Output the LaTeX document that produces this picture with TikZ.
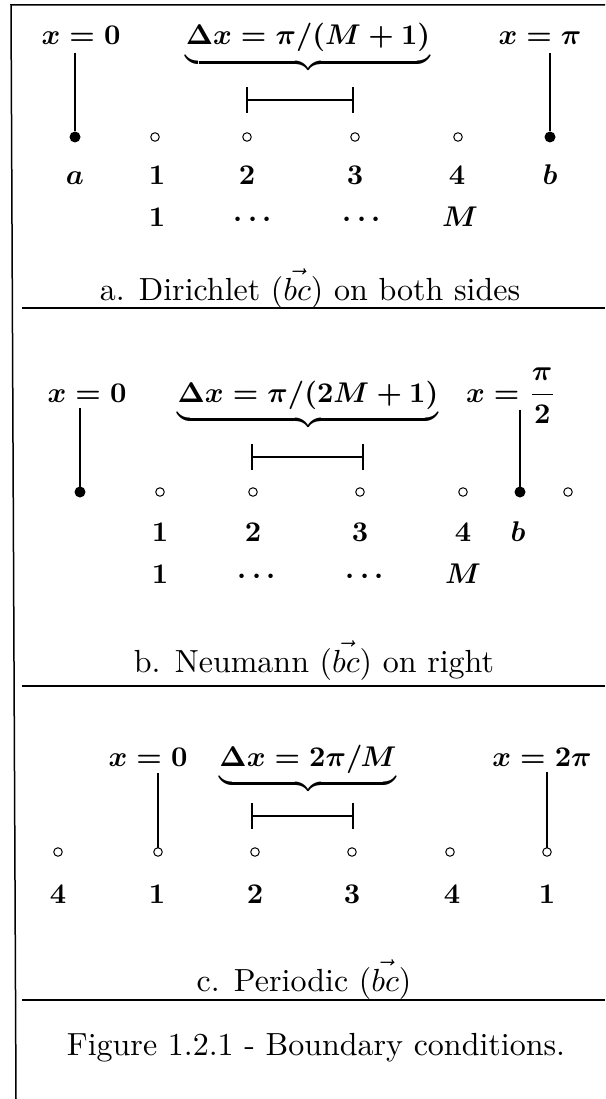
\documentclass[tikz,border=0pt]{standalone}
\usepackage{graphicx}
\newcommand{\bmt}[1]{\scalebox{2.85}{\boldmath$#1$}}
\newcommand{\cptn}[1]{\scalebox{3.2}{#1}}
\tikzset{
  lbl/.style={anchor=base, inner sep=0pt, outer sep=0pt},
  fdot/.style={circle, fill=black, inner sep=0pt, outer sep=0pt, minimum size=11pt},
  odot/.style={circle, draw=black, line width=1pt, fill=white, inner sep=0pt, outer sep=0pt, minimum size=8.5pt},
  stem/.style={line width=2.8pt},
  thinstem/.style={line width=1.7pt},
  barline/.style={line width=2.3pt},
  rule/.style={line width=1.5pt},
}
\begin{document}
\begin{tikzpicture}[x=1pt,y=-1pt]
\useasboundingbox (0,0) rectangle (605,1099);
% frame
\coordinate (tl) at (11,5);
\coordinate (tr) at (605,5);
\coordinate (bl) at (16,1099);
\draw[rule] (tr) -- (tl) -- (bl);

% ---------------- a. Dirichlet ----------------
\node[lbl] (ax0) at (81,45) {\bmt{x=0}};
\node[lbl] (adx) at (308,45) {\bmt{\underbrace{\Delta x=\pi/(M+1)}}};
\node[lbl] (axpi) at (540,45) {\bmt{x=\pi}};
\node[fdot] (aa) at (75,137) {};
\node[odot] (a1) at (155,137) {};
\node[odot] (a2) at (247,137) {};
\node[odot] (a3) at (355,137) {};
\node[odot] (a4) at (458,137) {};
\node[fdot] (ab) at (550,137) {};
\coordinate (aat) at (75,53);
\coordinate (abt) at (550,53);
\draw[stem] (aat) -- (aa);
\draw[stem] (abt) -- (ab);
\coordinate (abl) at (247,100);
\coordinate (abr) at (353,100);
\draw[barline] (abl) -- (abr);
\draw[barline] ([yshift=13pt]abl) -- ([yshift=-13pt]abl);
\draw[barline] ([yshift=13pt]abr) -- ([yshift=-13pt]abr);
\node[lbl] (la) at (75,185) {\bmt{a}};
\node[lbl] (l1) at (157,185) {\bmt{1}};
\node[lbl] (l2) at (247,185) {\bmt{2}};
\node[lbl] (l3) at (355,185) {\bmt{3}};
\node[lbl] (l4) at (457,185) {\bmt{4}};
\node[lbl] (lb) at (550,185) {\bmt{b}};
\node[lbl] (m1) at (157,227) {\bmt{1}};
\node[lbl] (m2) at (253,227) {\bmt{\cdots}};
\node[lbl] (m3) at (362,227) {\bmt{\cdots}};
\node[lbl] (m4) at (460,227) {\bmt{M}};
\node[lbl] (capa) at (310,300) {\cptn{a. Dirichlet $(\vec{bc})$ on both sides}};
\coordinate (sa1) at (22,308);
\coordinate (sa2) at (605,308);
\draw[rule] (sa1) -- (sa2);

% ---------------- b. Neumann ----------------
\node[lbl] (bx0) at (87,402) {\bmt{x=0}};
\node[lbl] (bdx) at (308,402) {\bmt{\underbrace{\Delta x=\pi/(2M+1)}}};
\node[lbl] (bxpi) at (511,402) {\bmt{\displaystyle x=\frac{\pi}{2}}};
\node[fdot] (ba) at (80,492) {};
\node[odot] (b1) at (160,492) {};
\node[odot] (b2) at (253,492) {};
\node[odot] (b3) at (360,492) {};
\node[odot] (b4) at (463,492) {};
\node[fdot] (bb) at (520,492) {};
\node[odot] (b5) at (568,492) {};
\coordinate (bat) at (80,408);
\coordinate (bbt) at (520,410);
\draw[stem] (bat) -- (ba);
\draw[stem] (bbt) -- (bb);
\coordinate (bbl) at (252,457);
\coordinate (bbr) at (363,457);
\draw[barline] (bbl) -- (bbr);
\draw[barline] ([yshift=13pt]bbl) -- ([yshift=-13pt]bbl);
\draw[barline] ([yshift=13pt]bbr) -- ([yshift=-13pt]bbr);
\node[lbl] (k1) at (160,541) {\bmt{1}};
\node[lbl] (k2) at (253,541) {\bmt{2}};
\node[lbl] (k3) at (360,541) {\bmt{3}};
\node[lbl] (k4) at (463,541) {\bmt{4}};
\node[lbl] (kb) at (518,541) {\bmt{b}};
\node[lbl] (n1) at (160,583) {\bmt{1}};
\node[lbl] (n2) at (257,583) {\bmt{\cdots}};
\node[lbl] (n3) at (365,583) {\bmt{\cdots}};
\node[lbl] (n4) at (463,583) {\bmt{M}};
\node[lbl] (capb) at (314,672) {\cptn{b. Neumann $(\vec{bc})$ on right}};
\coordinate (sb1) at (22,686);
\coordinate (sb2) at (605,686);
\draw[rule] (sb1) -- (sb2);

% ---------------- c. Periodic ----------------
\node[lbl] (cx0) at (148,766) {\bmt{x=0}};
\node[lbl] (cdx) at (308,766) {\bmt{\underbrace{\Delta x=2\pi/M}}};
\node[lbl] (cxpi) at (542,766) {\bmt{x=2\pi}};
\node[odot] (c0) at (58,852) {};
\node[odot] (c1) at (158,852) {};
\node[odot] (c2) at (255,852) {};
\node[odot] (c3) at (352,852) {};
\node[odot] (c4) at (450,852) {};
\node[odot] (c5) at (547,852) {};
\coordinate (c1t) at (158,773);
\coordinate (c5t) at (547,772);
\draw[thinstem] (c1t) -- (c1);
\draw[thinstem] (c5t) -- (c5);
\coordinate (cbl) at (252,816);
\coordinate (cbr) at (353,816);
\draw[barline] (cbl) -- (cbr);
\draw[barline] ([yshift=13pt]cbl) -- ([yshift=-13pt]cbl);
\draw[barline] ([yshift=13pt]cbr) -- ([yshift=-13pt]cbr);
\node[lbl] (j0) at (58,903) {\bmt{4}};
\node[lbl] (j1) at (157,903) {\bmt{1}};
\node[lbl] (j2) at (255,903) {\bmt{2}};
\node[lbl] (j3) at (352,903) {\bmt{3}};
\node[lbl] (j4) at (452,903) {\bmt{4}};
\node[lbl] (j5) at (547,903) {\bmt{1}};
\node[lbl] (capc) at (304,991) {\cptn{c. Periodic $(\vec{bc})$}};
\coordinate (sc1) at (22,1000);
\coordinate (sc2) at (605,1000);
\draw[rule] (sc1) -- (sc2);

\node[lbl] (fig) at (316,1055) {\cptn{Figure 1.2.1 - Boundary conditions.}};
\end{tikzpicture}
\end{document}
